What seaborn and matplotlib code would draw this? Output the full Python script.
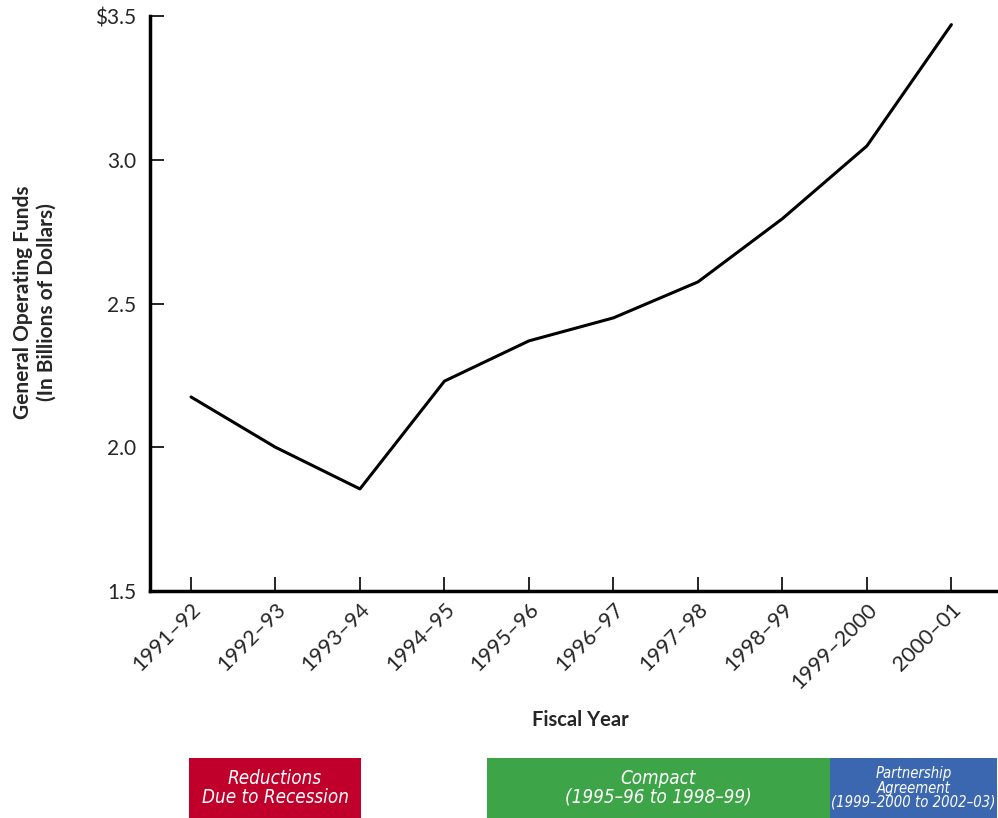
import matplotlib
matplotlib.use("Agg")
import matplotlib.pyplot as plt
from matplotlib.patches import Rectangle
import seaborn as sns
import pandas as pd

fiscal_years = ["1991–92", "1992–93", "1993–94", "1994–95", "1995–96",
                "1996–97", "1997–98", "1998–99", "1999–2000", "2000–01"]
funds_billions = [2.175, 2.00, 1.855, 2.23, 2.37, 2.45, 2.575, 2.795, 3.048, 3.47]
y_ticks = [1.5, 2.0, 2.5, 3.0, 3.5]
y_tick_labels = ["1.5", "2.0", "2.5", "3.0", "$3.5"]

# Policy periods shown as coloured bands under the chart
period_labels = ["Reductions\nDue to Recession",
                 "Compact\n(1995–96 to 1998–99)",
                 "Partnership\nAgreement\n(1999–2000 to 2002–03)"]
period_colors = ["#C0002A", "#3DA447", "#3A67B0"]

sns.set_theme(style="white")
plt.rcParams["font.family"] = ["Lato", "DejaVu Sans"]

W, H = 998, 818
fig = plt.figure(figsize=(W / 100, H / 100), dpi=100)
ax = fig.add_axes([150 / W, (H - 591) / H, 847 / W, 575 / H])

df = pd.DataFrame({"idx": range(len(fiscal_years)), "funds": funds_billions})
sns.lineplot(data=df, x="idx", y="funds", ax=ax, color="black", linewidth=2.2)

ax.set_xlim(-0.485, 9.54)
ax.set_ylim(1.5, 3.5)
for s in ["top", "right"]:
    ax.spines[s].set_visible(False)
for s in ["left", "bottom"]:
    ax.spines[s].set_color("black")
    ax.spines[s].set_linewidth(2.5)

ax.set_yticks(y_ticks)
ax.set_yticklabels(y_tick_labels, fontsize=15)
ax.set_xticks(range(len(fiscal_years)))
ax.set_xticklabels(fiscal_years, fontsize=15.5, rotation=45, ha="right",
                   rotation_mode="anchor")
ax.tick_params(axis="both", direction="in", length=10, width=1.2,
               color="black", left=True, bottom=True)
ax.tick_params(axis="y", pad=10)
ax.tick_params(axis="x", pad=6)

ax.set_xlabel("")
ax.set_ylabel("")
fig.text(580 / W, (H - 720) / H, "Fiscal Year", fontsize=14.5,
         fontweight="bold", ha="center", va="center")
fig.text(35 / W, (H - 302) / H, "General Operating Funds\n(In Billions of Dollars)",
         fontsize=15, fontweight="bold", rotation=90, ha="center", va="center",
         linespacing=1.2)

# Bands in figure pixel coordinates: (x0, x1)
bands = [(189, 361), (487, 830), (830, 997)]
y0, y1 = 758, 818
for (x0, x1), lab, col in zip(bands, period_labels, period_colors):
    fig.add_artist(Rectangle((x0 / W, (H - y1) / H), (x1 - x0) / W, (y1 - y0) / H,
                             transform=fig.transFigure, facecolor=col,
                             edgecolor="none"))
    three = lab.count("\n") == 2
    fig.text((x0 + x1) / 2 / W, (H - (y0 + y1) / 2) / H, lab,
             ha="center", va="center", color="white", style="italic",
             fontsize=10.6 if three else 13.5, linespacing=0.95,
             family=["DejaVu Sans"], fontstretch="condensed")

fig.savefig("out.png", dpi=100)
